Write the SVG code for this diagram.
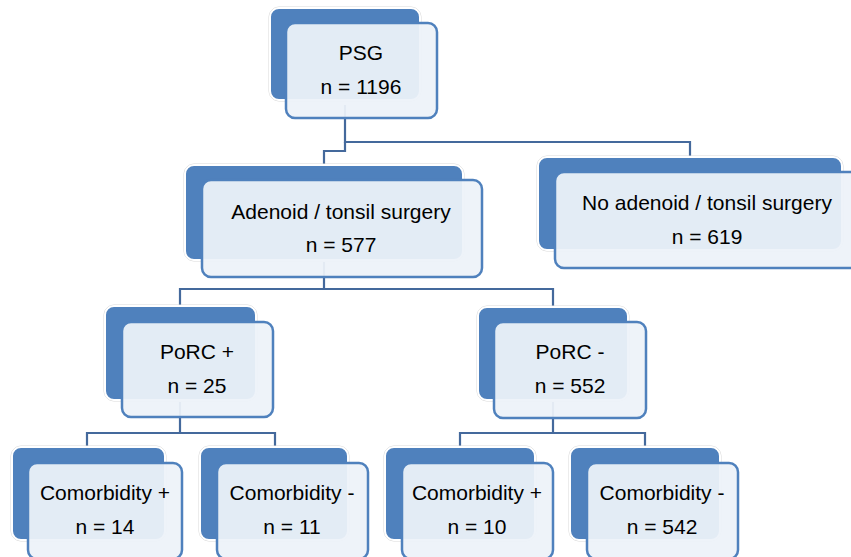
<svg xmlns="http://www.w3.org/2000/svg" width="851" height="557" viewBox="0 0 851 557">
<style>
.bg{fill:#4F81BD;stroke:#FFFFFF;stroke-width:2;}
.halo{fill:none;stroke:#D9D9D9;stroke-width:1;}
.fr{fill:#EDF2F9;fill-opacity:0.94;stroke:#4F81BD;stroke-width:2.5;}
.conn{fill:none;stroke:#44699C;stroke-width:2.2;}
text{font-family:"Liberation Sans",Arial,sans-serif;font-size:21px;fill:#000;text-anchor:middle;}
</style>
<g id="connectors">
<polyline class="conn" points="345,105 345,142 690,142 690,157"/>
<polyline class="conn" points="345,142 345,151 324,151 324,165"/>
<polyline class="conn" points="324,262 324,289 180,289 180,306"/>
<polyline class="conn" points="324,289 553,289 553,306"/>
<polyline class="conn" points="180,402 180,433 87,433 87,447"/>
<polyline class="conn" points="180,433 275,433 275,447"/>
<polyline class="conn" points="553,402 553,433 460,433 460,447"/>
<polyline class="conn" points="553,433 645,433 645,447"/>
</g>
<g id="psg">
<rect class="halo" x="269" y="7" width="152" height="94" rx="10"/>
<rect class="bg" x="270" y="8" width="150" height="92" rx="9"/>
<rect class="fr" x="286" y="23" width="151" height="95" rx="9"/>
<text x="361" y="60">PSG</text>
<text x="361" y="94">n = 1196</text>
</g>
<g id="adenoid">
<rect class="halo" x="184" y="164" width="280" height="97" rx="10"/>
<rect class="bg" x="185" y="165" width="278" height="95" rx="9"/>
<rect class="fr" x="202" y="180" width="280" height="97" rx="9"/>
<text x="341" y="219">Adenoid / tonsil surgery</text>
<text x="341" y="252">n = 577</text>
</g>
<g id="no-adenoid">
<rect class="halo" x="537" y="156" width="306" height="95" rx="10"/>
<rect class="bg" x="538" y="157" width="304" height="93" rx="9"/>
<rect class="fr" x="555" y="172" width="305" height="96" rx="9"/>
<text x="707" y="210">No adenoid / tonsil surgery</text>
<text x="707" y="244">n = 619</text>
</g>
<g id="porc-plus">
<rect class="halo" x="104" y="305" width="153" height="96" rx="10"/>
<rect class="bg" x="105" y="306" width="151" height="94" rx="9"/>
<rect class="fr" x="122" y="322" width="151" height="95" rx="9"/>
<text x="197" y="359">PoRC +</text>
<text x="197" y="393">n = 25</text>
</g>
<g id="porc-minus">
<rect class="halo" x="477" y="306" width="152" height="95" rx="10"/>
<rect class="bg" x="478" y="307" width="150" height="93" rx="9"/>
<rect class="fr" x="494" y="322" width="152" height="96" rx="9"/>
<text x="570" y="359">PoRC -</text>
<text x="570" y="393">n = 552</text>
</g>
<g id="comorb-plus-1">
<rect class="halo" x="11" y="446" width="155" height="95" rx="10"/>
<rect class="bg" x="12" y="447" width="153" height="93" rx="9"/>
<rect class="fr" x="28" y="463" width="154" height="96" rx="9"/>
<text x="105" y="500">Comorbidity +</text>
<text x="105" y="534">n = 14</text>
</g>
<g id="comorb-minus-1">
<rect class="halo" x="199" y="446" width="150" height="95" rx="10"/>
<rect class="bg" x="200" y="447" width="148" height="93" rx="9"/>
<rect class="fr" x="217" y="463" width="151" height="96" rx="9"/>
<text x="292" y="500">Comorbidity -</text>
<text x="292" y="534">n = 11</text>
</g>
<g id="comorb-plus-2">
<rect class="halo" x="384" y="446" width="152" height="95" rx="10"/>
<rect class="bg" x="385" y="447" width="150" height="93" rx="9"/>
<rect class="fr" x="402" y="463" width="151" height="96" rx="9"/>
<text x="477" y="500">Comorbidity +</text>
<text x="477" y="534">n = 10</text>
</g>
<g id="comorb-minus-2">
<rect class="halo" x="569" y="446" width="152" height="95" rx="10"/>
<rect class="bg" x="570" y="447" width="150" height="93" rx="9"/>
<rect class="fr" x="587" y="463" width="151" height="96" rx="9"/>
<text x="662" y="500">Comorbidity -</text>
<text x="662" y="534">n = 542</text>
</g>
</svg>
